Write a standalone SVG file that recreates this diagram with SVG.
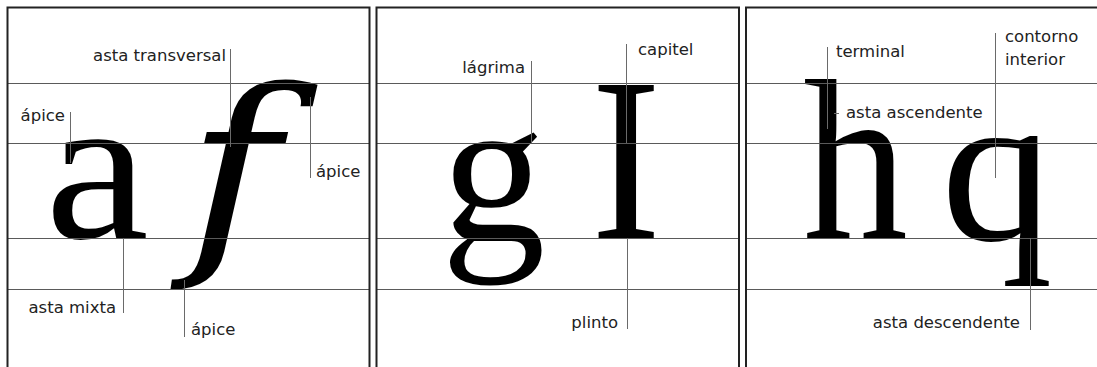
<svg xmlns="http://www.w3.org/2000/svg" width="1097" height="367" viewBox="0 0 1097 367">
<style>
.glyph{font-family:'Liberation Serif',serif;fill:#000}
.ital{font-family:'DejaVu Serif',serif;font-style:italic;fill:#000}
.lbl{font-family:'DejaVu Sans',sans-serif;font-size:16.5px;fill:#222}
.end{text-anchor:end}
.guide{stroke:#5a5a5a;stroke-width:1;fill:none}
.lead{stroke:#6a6a6a;stroke-width:1;fill:none}
.frame{stroke:#222;stroke-width:2;fill:none}
</style>
<rect width="1097" height="367" fill="#fff"/>
<g id="glyphs">
  <text id="glyph-a" class="glyph" font-size="209" transform="translate(45 238) scale(1.12 1)">a</text>
  <text id="glyph-f" class="ital" font-size="217" transform="translate(186 245) scale(1.17 1)">f</text>
  <text id="glyph-g" class="glyph" font-size="209" transform="translate(441 240) scale(1.0 1)">g</text>
  <text id="glyph-I" class="glyph" font-size="234" transform="translate(591 238) scale(0.9 1)">I</text>
  <text id="glyph-h" class="glyph" font-size="228" transform="translate(803 238) scale(0.92 1)">h</text>
  <text id="glyph-q" class="glyph" font-size="217" transform="translate(941 240) scale(1.03 1)">q</text>
</g>
<g id="guides">
  <path class="guide" d="M7 83.5H370M7 143.5H370M7 238.5H370M7 289.5H370"/>
  <path class="guide" d="M376 83.5H739M376 143.5H739M376 238.5H739M376 289.5H739"/>
  <path class="guide" d="M746 83.5H1097M746 143.5H1097M746 238.5H1097M746 289.5H1097"/>
</g>
<g id="connectors">
  <path class="lead" d="M230.5 49V147"/>
  <path class="lead" d="M70.5 112V163"/>
  <path class="lead" d="M310.5 97V178"/>
  <path class="lead" d="M123.5 238V313"/>
  <path class="lead" d="M184.5 280V337"/>
  <path class="lead" d="M531.5 61V143"/>
  <path class="lead" d="M626.5 44V143"/>
  <path class="lead" d="M627.5 238V329"/>
  <path class="lead" d="M827.5 47V129"/>
  <path class="lead" d="M834 113.5H839"/>
  <path class="lead" d="M995.5 33V178"/>
  <path class="lead" d="M1030.5 238V330"/>
</g>
<g id="label-asta-transversal"><text class="lbl end" x="226" y="61">asta transversal</text></g>
<g id="label-apice-a"><text class="lbl end" x="65" y="121">ápice</text></g>
<g id="label-apice-f-top"><text class="lbl" x="316" y="177">ápice</text></g>
<g id="label-asta-mixta"><text class="lbl end" x="116" y="313">asta mixta</text></g>
<g id="label-apice-f-bottom"><text class="lbl" x="191" y="335">ápice</text></g>
<g id="label-lagrima"><text class="lbl end" x="525" y="73">lágrima</text></g>
<g id="label-capitel"><text class="lbl" x="638" y="55">capitel</text></g>
<g id="label-plinto"><text class="lbl end" x="618" y="328">plinto</text></g>
<g id="label-terminal"><text class="lbl" x="836" y="57">terminal</text></g>
<g id="label-asta-ascendente"><text class="lbl" x="846" y="118">asta ascendente</text></g>
<g id="label-contorno-interior"><text class="lbl" x="1005" y="42">contorno</text><text class="lbl" x="1005" y="65">interior</text></g>
<g id="label-asta-descendente"><text class="lbl end" x="1020" y="328">asta descendente</text></g>
<g id="frames">
  <path class="frame" d="M7.5 367V7.5H369.5V367"/>
  <path class="frame" d="M376.5 367V7.5H739V367"/>
  <path class="frame" d="M746 367V7.5H1097"/>
</g>
</svg>
